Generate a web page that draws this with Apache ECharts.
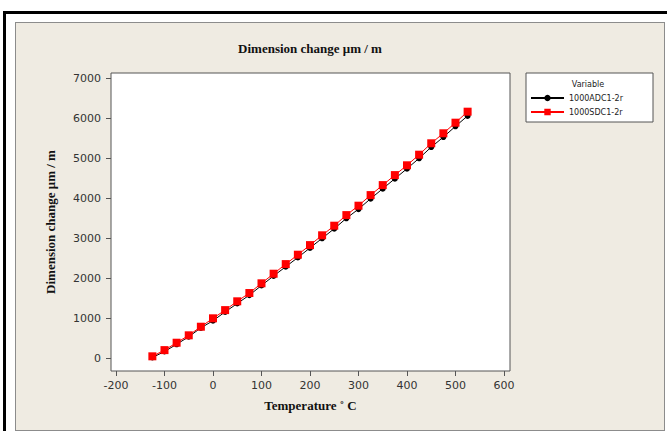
<!DOCTYPE html>
<html>
<head>
<meta charset="utf-8">
<title>Dimension change</title>
<script src="https://cdn.jsdelivr.net/npm/echarts@6/dist/echarts.min.js"></script>
<style>
html, body { margin: 0; padding: 0; background: #fff; width: 667px; height: 431px; overflow: hidden; }
/* outer black frame (left + top only visible) */
.frame { position: absolute; left: 3px; top: 11px; width: 664px; height: 420px; border-left: 3px solid #000; border-top: 3px solid #000; }
/* beige minitab panel */
.panel { position: absolute; left: 15px; top: 22px; width: 648px; height: 407px; background: #efebe2; border: 1px solid #8c8c8c; }
#chart { position: absolute; left: 0; top: 0; width: 667px; height: 431px; }
</style>
</head>
<body>
<div class="frame"></div>
<div class="panel"></div>
<div id="chart"></div>
<script>
// temperature (deg C)
const temperature = [-125, -100, -75, -50, -25, 0, 25, 50, 75, 100, 125, 150, 175, 200, 225,
  250, 275, 300, 325, 350, 375, 400, 425, 450, 475, 500, 525]

// 1000ADC1-2r (black circles)
const adcValues = [20, 170, 350, 540, 760, 940, 1160, 1370, 1580, 1820, 2060, 2290, 2520, 2760, 3000,
  3240, 3500, 3730, 3990, 4240, 4490, 4740, 5000, 5280, 5530, 5800, 6060]

// 1000SDC1-2r (red squares)
const sdcValues = [50, 205, 390, 575, 790, 1000, 1205, 1425, 1632, 1875, 2115, 2355, 2590, 2830, 3075,
  3315, 3580, 3815, 4080, 4330, 4580, 4825, 5090, 5375, 5625, 5890, 6165]

// tick labels
const xTicks = [-200, -100, 0, 100, 200, 300, 400, 500, 600]
const yTicks = [0, 1000, 2000, 3000, 4000, 5000, 6000, 7000]

const seriesNames = ['1000ADC1-2r', '1000SDC1-2r']

const pairs = (ys) => temperature.map((t, i) => [t, ys[i]])

const labelFont = { fontFamily: 'DejaVu Sans', fontSize: 11, color: '#333' }
const nameFont = { fontFamily: 'Liberation Serif', fontSize: 13, fontWeight: 'bold', color: '#111' }

const chart = echarts.init(document.getElementById('chart'), null, { renderer: 'svg' })

chart.setOption({
  animation: false,
  backgroundColor: 'transparent',
  grid: {
    left: 111,
    top: 73,
    width: 399,
    height: 298,
    show: true,
    backgroundColor: '#fff',
    borderColor: '#555',
    borderWidth: 1
  },
  xAxis: {
    type: 'value',
    min: -210.3,
    max: 612.4,
    name: 'Temperature ˚ C',
    nameLocation: 'middle',
    nameGap: 28,
    nameTextStyle: nameFont,
    axisLine: { show: false, onZero: false },
    axisTick: { show: true, length: 5, customValues: xTicks, lineStyle: { color: '#555' } },
    axisLabel: { customValues: xTicks, margin: 9, formatter: (v) => String(v), ...labelFont },
    splitLine: { show: false }
  },
  yAxis: {
    type: 'value',
    min: -317,
    max: 7132,
    name: 'Dimension change μm / m',
    nameLocation: 'middle',
    nameGap: 54,
    nameTextStyle: nameFont,
    axisLine: { show: false, onZero: false },
    axisTick: { show: true, length: 5, customValues: yTicks, lineStyle: { color: '#555' } },
    axisLabel: { customValues: yTicks, margin: 10, formatter: (v) => String(v), ...labelFont },
    splitLine: { show: false }
  },
  legend: {
    z: 10,
    orient: 'vertical',
    left: 530,
    top: 94,
    padding: 0,
    itemWidth: 33,
    itemHeight: 8,
    itemGap: 6,
    data: seriesNames,
    textStyle: { fontFamily: 'DejaVu Sans', fontSize: 8, color: '#222' }
  },
  graphic: [
    {
      type: 'rect',
      z: -1,
      shape: { x: 526, y: 73, width: 127, height: 49 },
      style: { fill: '#fff', stroke: '#555', lineWidth: 1 }
    },
    {
      type: 'text',
      style: {
        text: 'Variable', x: 588, y: 84, align: 'center', verticalAlign: 'middle',
        font: '8px "DejaVu Sans"', fill: '#222'
      }
    },
    {
      type: 'text',
      style: {
        text: 'Dimension change μm / m', x: 310, y: 48, align: 'center', verticalAlign: 'middle',
        font: 'bold 13px "Liberation Serif"', fill: '#111'
      }
    }
  ],
  series: [
    {
      name: seriesNames[0],
      type: 'line',
      data: pairs(adcValues),
      symbol: 'circle',
      symbolSize: 6,
      itemStyle: { color: '#000' },
      lineStyle: { color: '#000', width: 1 }
    },
    {
      name: seriesNames[1],
      type: 'line',
      data: pairs(sdcValues),
      symbol: 'rect',
      symbolSize: 8,
      itemStyle: { color: '#ff0000' },
      lineStyle: { color: '#ff0000', width: 1 }
    }
  ]
})
</script>
</body>
</html>
